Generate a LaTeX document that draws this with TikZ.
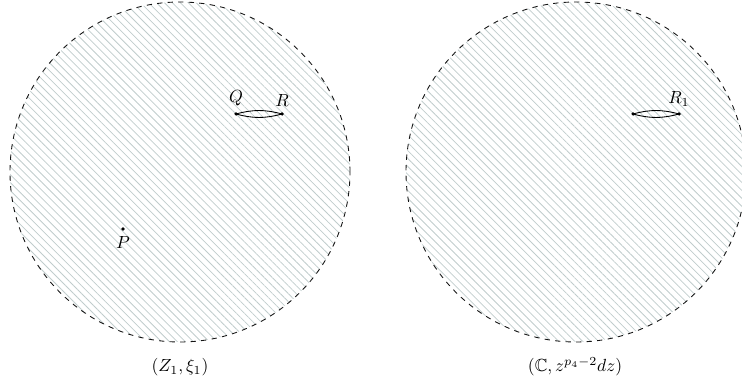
\documentclass[tikz,border=0pt]{standalone}
\usepackage{amsmath,amssymb,amsfonts}
\usepackage{xcolor}
\usepackage{tikz}
\usetikzlibrary{calc,positioning,patterns,patterns.meta}
\definecolor{hatchGray}{RGB}{192,204,204}
\definecolor{rimBlack}{RGB}{20,20,20}

\begin{document}
\begin{tikzpicture}
\useasboundingbox (0,0) rectangle (14.84,7.74);

% the two hatched discs
\fill[pattern={Lines[angle=-45,distance=3.2pt,line width=0.45pt]}, pattern color=hatchGray] (3.6,4.3) circle (3.4);
\fill[pattern={Lines[angle=-45,distance=3.2pt,line width=0.45pt]}, pattern color=hatchGray] (11.52,4.3) circle (3.4);
\draw[rimBlack, dashed, line width=0.5pt] (3.6,4.3) circle (3.4);
\draw[rimBlack, dashed, line width=0.5pt] (11.52,4.3) circle (3.4);

% points on the left disc
\coordinate (Q) at (4.72,5.46);
\coordinate (R) at (5.64,5.46);
\coordinate (P) at (2.46,3.16);
\draw[line width=0.5pt] (Q) to[bend left=15] (R) to[bend left=15] (Q);
\fill (Q) circle (1pt) node[above=1pt] (Qlab) {$Q$};
\fill (R) circle (1pt) node[above=1pt] (Rlab) {$R$};
\fill (P) circle (1pt) node[below=1pt] (Plab) {$P$};

% points on the right disc
\coordinate (S) at (12.66,5.46);
\coordinate (R1) at (13.58,5.46);
\draw[line width=0.5pt] (S) to[bend left=15] (R1) to[bend left=15] (S);
\fill (S) circle (1pt);
\fill (R1) circle (1pt) node[above=1pt] (R1lab) {$R_1$};

\node (leftcap) at (3.6,0.4) {$(Z_1,\xi_1)$};
\node (rightcap) at (11.5,0.4) {$(\mathbb{C},z^{p_4-2}dz)$};
\end{tikzpicture}
\end{document}
